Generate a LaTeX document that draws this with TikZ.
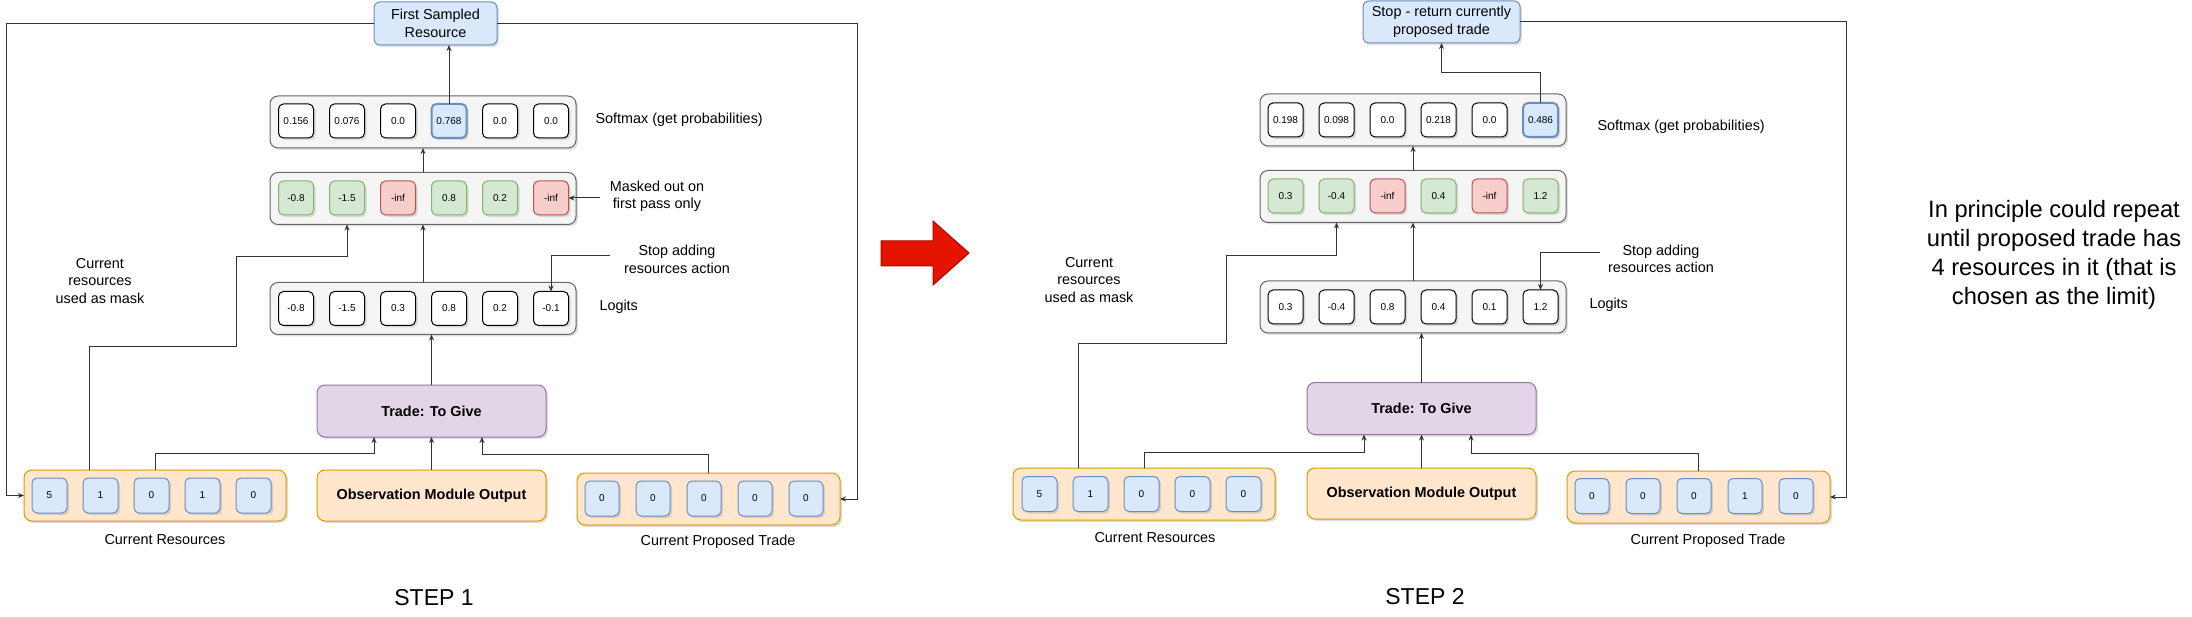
\documentclass[tikz,border=0pt]{standalone}
\usepackage{fontspec}
\setmainfont{Liberation Sans}
\usetikzlibrary{arrows.meta}
\usetikzlibrary{shadows}

\definecolor{bankfill}{HTML}{F5F5F5}
\definecolor{bankline}{HTML}{666666}
\definecolor{grnfill}{HTML}{D5E8D4}
\definecolor{grnline}{HTML}{82B366}
\definecolor{redfill}{HTML}{F8CECC}
\definecolor{redline}{HTML}{B85450}
\definecolor{blufill}{HTML}{DAE8FC}
\definecolor{bluline}{HTML}{6C8EBF}
\definecolor{orafill}{HTML}{FFE6CC}
\definecolor{oraline}{HTML}{D79B00}
\definecolor{purfill}{HTML}{E1D5E7}
\definecolor{purline}{HTML}{9673A6}
\definecolor{arrfill}{HTML}{E51400}
\definecolor{arrline}{HTML}{B20000}
\definecolor{wirecol}{HTML}{333333}

\begin{document}
\begin{tikzpicture}[x=1pt, y=-1pt, line width=1pt,
  base/.style={rectangle, rounded corners=5pt, inner sep=0pt, outer sep=0pt,
    drop shadow={shadow xshift=2pt, shadow yshift=-2pt, opacity=0.25}},
  cell/.style={base, draw=black, fill=white, minimum width=35pt, minimum height=34pt,
    font=\fontsize{10}{12}\selectfont},
  gcell/.style={cell, draw=grnline, fill=grnfill},
  rcell/.style={cell, draw=redline, fill=redfill},
  hcell/.style={cell, draw=bluline, fill=blufill, line width=2pt},
  res/.style={cell, draw=bluline, fill=blufill, minimum height=35pt},
  bank/.style={base, rounded corners=8pt, draw=bankline, fill=bankfill,
    minimum width=306pt, minimum height=52pt},
  tray/.style={base, rounded corners=8pt, draw=oraline, fill=orafill, minimum height=52pt},
  obox/.style={base, rounded corners=8pt, draw=oraline, fill=orafill, minimum width=229pt,
    minimum height=51pt, font=\fontsize{14.4}{17}\selectfont\bfseries},
  tgive/.style={base, rounded corners=8pt, draw=purline, fill=purfill, minimum width=229pt,
    minimum height=52pt, font=\fontsize{14.4}{17}\selectfont\bfseries},
  outbox/.style={base, rounded corners=6pt, draw=bluline, fill=blufill, align=center,
    font=\fontsize{14.4}{17.5}\selectfont},
  lbl/.style={inner sep=0pt, align=center, font=\fontsize{14.4}{17.5}\selectfont},
  steplbl/.style={inner sep=0pt, font=\fontsize{23}{28}\selectfont},
  note/.style={inner sep=0pt, align=center, font=\fontsize{23.7}{29}\selectfont},
  wire/.style={draw=wirecol, -{Stealth[length=6pt, width=5pt]}}]

\useasboundingbox[fill=white] (0,0) rectangle (2192,617);

% step 1
\node[outbox, minimum width=123pt, minimum height=43pt] (fsr) at (435.5,23.5) {First Sampled\\Resource};

\node[bank] (sm1) at (423,122) {};
\node[cell] (s11) at (296,121) {0.156};
\node[cell] (s12) at (347,121) {0.076};
\node[cell] (s13) at (398,121) {0.0};
\node[hcell] (s14) at (449,121) {0.768};
\node[cell] (s15) at (500,121) {0.0};
\node[cell] (s16) at (551,121) {0.0};

\node[bank] (mk1) at (423,198.5) {};
\node[gcell] (m11) at (296,198) {-0.8};
\node[gcell] (m12) at (347,198) {-1.5};
\node[rcell] (m13) at (398,198) {-inf};
\node[gcell] (m14) at (449,198) {0.8};
\node[gcell] (m15) at (500,198) {0.2};
\node[rcell] (m16) at (551,198) {-inf};

\node[bank] (lg1) at (423,308.5) {};
\node[cell] (l11) at (296,308.5) {-0.8};
\node[cell] (l12) at (347,308.5) {-1.5};
\node[cell] (l13) at (398,308.5) {0.3};
\node[cell] (l14) at (449,308.5) {0.8};
\node[cell] (l15) at (500,308.5) {0.2};
\node[cell] (l16) at (551,308.5) {-0.1};

\node[tgive] (tg1) at (431.5,411) {Trade: To Give};
\node[obox] (ob1) at (431.5,495.5) {Observation Module Output};

\node[tray, minimum width=262pt, minimum height=51pt] (cr1) at (155,495.5) {};
\node[res] (r11) at (49.5,495.5) {5};
\node[res] (r12) at (100.5,495.5) {1};
\node[res] (r13) at (151.5,495.5) {0};
\node[res] (r14) at (202.5,495.5) {1};
\node[res] (r15) at (253.5,495.5) {0};

\node[tray, minimum width=263pt] (pt1) at (708.5,499) {};
\node[res, minimum width=34pt] (p11) at (602,498.5) {0};
\node[res, minimum width=34pt] (p12) at (653,498.5) {0};
\node[res, minimum width=34pt] (p13) at (704,498.5) {0};
\node[res, minimum width=34pt] (p14) at (755,498.5) {0};
\node[res, minimum width=34pt] (p15) at (806,498.5) {0};

\node[lbl, anchor=west] (smx1) at (595,120) {Softmax (get probabilities)};
\node[lbl] (msk1) at (657,196.5) {Masked out on\\first pass only};
\node[lbl] (sad1) at (677,259.5) {Stop adding\\resources action};
\node[lbl, anchor=west] (lgt1) at (599,307) {Logits};
\node[lbl] (usd1) at (100,281) {Current\\resources\\used as mask};
\node[lbl] (crl1) at (165,540) {Current Resources};
\node[lbl] (ptl1) at (718,542) {Current Proposed Trade};
\node[steplbl] (st1) at (434,598) {STEP 1};

\coordinate (j11) at (374,453);
\coordinate (j12) at (482,454);
\coordinate (k11) at (89,347);
\coordinate (k12) at (236,257);
\coordinate (e11) at (600,198);
\coordinate (e12) at (610,256);
\coordinate (lp1) at (6,23.5);
\coordinate (rp1) at (857,23.5);

\draw[wire] (s14.north) -- (s14.north |- fsr.south);
\draw[wire] (mk1.north) -- (sm1.south);
\draw[wire] (lg1.north) -- (mk1.south);
\draw[wire] (tg1.north) -- (tg1.north |- lg1.south);
\draw[wire] (ob1.north) -- (tg1.south);
\draw[wire] (cr1.north) |- (j11) -- (j11 |- tg1.south);
\draw[wire] (pt1.north) |- (j12) -- (j12 |- tg1.south);
\draw[wire] (k11 |- cr1.north) -- (k11) -| (k12) -| (m12.south |- mk1.south);
\draw[wire] (e11) -- (m16.east);
\draw[wire] (e12) -| (l16.north);
\draw[wire] (fsr.west) -| (lp1 |- cr1.west) -- (cr1.west);
\draw[wire] (fsr.east) -| (rp1 |- pt1.east) -- (pt1.east);

% big red arrow
\draw[fill=arrfill, draw=arrline] (881,241) -- (933,241) -- (933,221) -- (969,253)
  -- (933,285) -- (933,266) -- (881,266) -- cycle;

% step 2
\node[outbox, minimum width=157pt, minimum height=42pt] (stp) at (1441.5,22) {Stop - return currently\\proposed trade};

\node[bank] (sm2) at (1413,120) {};
\node[cell] (s21) at (1285.5,120) {0.198};
\node[cell] (s22) at (1336.5,120) {0.098};
\node[cell] (s23) at (1387.5,120) {0.0};
\node[cell] (s24) at (1438.5,120) {0.218};
\node[cell] (s25) at (1489.5,120) {0.0};
\node[hcell] (s26) at (1540.5,120) {0.486};

\node[bank] (mk2) at (1413,196.5) {};
\node[gcell] (m21) at (1285.5,196) {0.3};
\node[gcell] (m22) at (1336.5,196) {-0.4};
\node[rcell] (m23) at (1387.5,196) {-inf};
\node[gcell] (m24) at (1438.5,196) {0.4};
\node[rcell] (m25) at (1489.5,196) {-inf};
\node[gcell] (m26) at (1540.5,196) {1.2};

\node[bank] (lg2) at (1413,307) {};
\node[cell] (l21) at (1285.5,307) {0.3};
\node[cell] (l22) at (1336.5,307) {-0.4};
\node[cell] (l23) at (1387.5,307) {0.8};
\node[cell] (l24) at (1438.5,307) {0.4};
\node[cell] (l25) at (1489.5,307) {0.1};
\node[cell] (l26) at (1540.5,307) {1.2};

\node[tgive] (tg2) at (1421.5,408.5) {Trade: To Give};
\node[obox] (ob2) at (1421.5,493.5) {Observation Module Output};

\node[tray, minimum width=262pt] (cr2) at (1144,494) {};
\node[res] (r21) at (1039.5,494) {5};
\node[res] (r22) at (1090.5,494) {1};
\node[res] (r23) at (1141.5,494) {0};
\node[res] (r24) at (1192.5,494) {0};
\node[res] (r25) at (1243.5,494) {0};

\node[tray, minimum width=263pt] (pt2) at (1698.5,497) {};
\node[res, minimum width=34pt] (p21) at (1592,496) {0};
\node[res, minimum width=34pt] (p22) at (1643,496) {0};
\node[res, minimum width=34pt] (p23) at (1694,496) {0};
\node[res, minimum width=34pt] (p24) at (1745,496) {1};
\node[res, minimum width=34pt] (p25) at (1796,496) {0};

\node[lbl, anchor=west] (smx2) at (1597,127) {Softmax (get probabilities)};
\node[lbl] (sad2) at (1661,259) {Stop adding\\resources action};
\node[lbl, anchor=west] (lgt2) at (1589,305) {Logits};
\node[lbl] (usd2) at (1089,280) {Current\\resources\\used as mask};
\node[lbl] (crl2) at (1155,538) {Current Resources};
\node[lbl] (ptl2) at (1708,541) {Current Proposed Trade};
\node[steplbl] (st2) at (1425,597) {STEP 2};

\node[note] (lim) at (2054,255) {In principle could repeat\\until proposed trade has\\4 resources in it (that is\\chosen as the limit)};

\coordinate (j21) at (1364,452);
\coordinate (j22) at (1471,453);
\coordinate (j25) at (1441.5,73);
\coordinate (k21) at (1078,344);
\coordinate (k22) at (1226,256);
\coordinate (e22) at (1600,253);
\coordinate (rp2) at (1846,22);

\draw[wire] (s26.north) |- (j25) -- (stp.south);
\draw[wire] (mk2.north) -- (sm2.south);
\draw[wire] (lg2.north) -- (mk2.south);
\draw[wire] (tg2.north) -- (tg2.north |- lg2.south);
\draw[wire] (ob2.north) -- (tg2.south);
\draw[wire] (cr2.north) |- (j21) -- (j21 |- tg2.south);
\draw[wire] (pt2.north) |- (j22) -- (j22 |- tg2.south);
\draw[wire] (k21 |- cr2.north) -- (k21) -| (k22) -| (m22.south |- mk2.south);
\draw[wire] (e22) -| (l26.north);
\draw[wire] (stp.east) -| (rp2 |- pt2.east) -- (pt2.east);
\end{tikzpicture}
\end{document}
